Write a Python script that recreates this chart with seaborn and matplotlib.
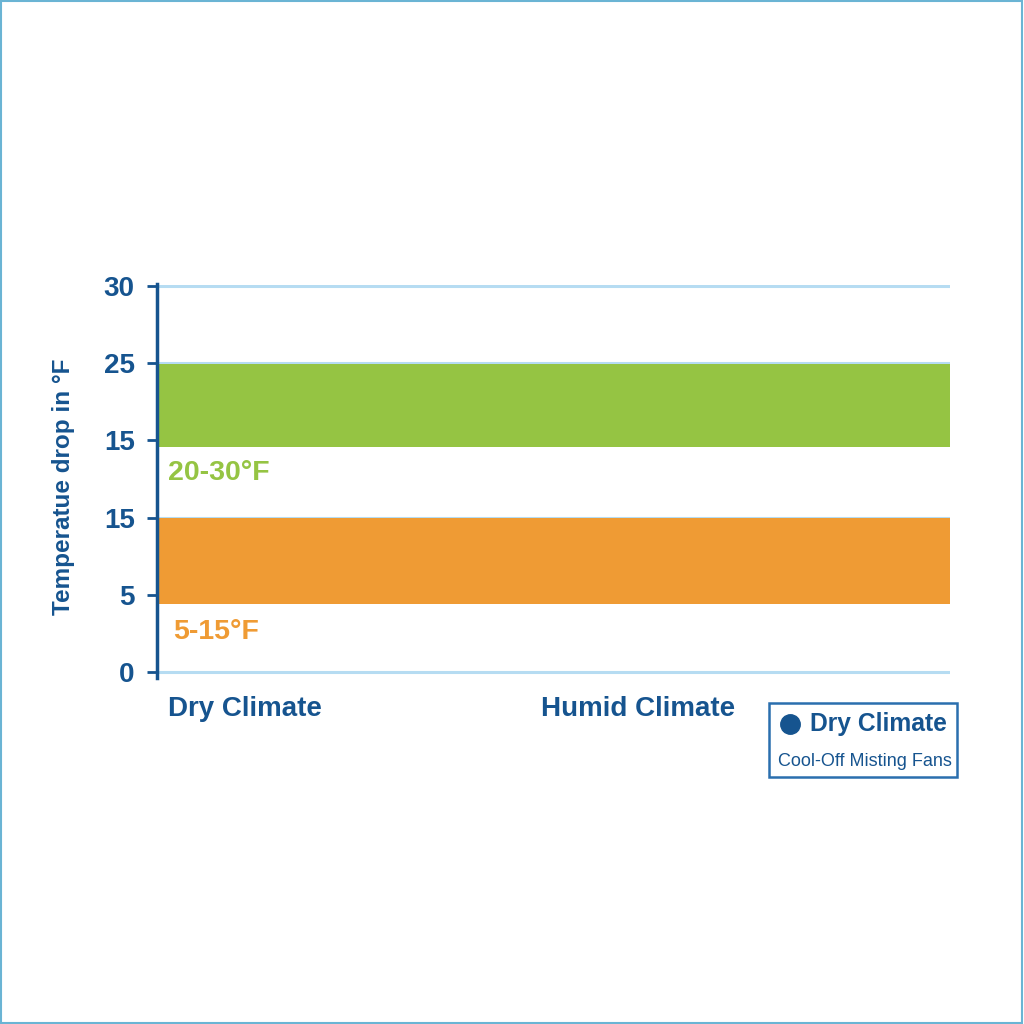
import matplotlib
matplotlib.use("Agg")
import matplotlib.pyplot as plt
import seaborn as sns
from matplotlib.patches import Rectangle
from matplotlib.lines import Line2D

# ---- data ----
ytick_labels = ["0", "5", "15", "15", "25", "30"]
band_names = ["20-30°F", "5-15°F"]
band_low = [2.91, 0.88]
band_high = [3.99, 1.99]
band_colors = ["#95c443", "#ef9b34"]
x_categories = ["Dry Climate", "Humid Climate"]
y_label = "Temperatue drop in °F"
legend_title = "Dry Climate"
legend_sub = "Cool-Off Misting Fans"

DARK = "#16548f"
GRID = "#b6dcf2"

sns.set_theme(style="white")
plt.rcParams["font.family"] = ["Liberation Sans", "DejaVu Sans"]

fig = plt.figure(figsize=(10.24, 10.24), dpi=100)
fig.patch.set_facecolor("white")
ax = fig.add_axes([157/1024, 1-678/1024, (950-157)/1024, (678-284.5)/1024])
ax.set_facecolor("white")

ax.set_xlim(0, 1)
ax.set_ylim(-0.08, 5.02)

ax.set_yticks(range(len(ytick_labels)))
ax.set_yticklabels(ytick_labels)
ax.yaxis.grid(True, color=GRID, linewidth=2.2)
ax.xaxis.grid(False)
ax.set_axisbelow(True)

# bands
for lo, hi, c in zip(band_low, band_high, band_colors):
    ax.bar(0.5, hi - lo, bottom=lo, width=1.0, color=c, edgecolor="none", zorder=2)

# band labels
label_y = [2.58, 0.52]
label_x = [0.014, 0.020]
for name, c, yy, xx in zip(band_names, band_colors, label_y, label_x):
    ax.text(xx, yy, name, color=c, fontsize=20.5, fontweight="bold", va="center", ha="left", zorder=3)

for s in ["top", "right", "bottom"]:
    ax.spines[s].set_visible(False)
ax.spines["left"].set_color(DARK)
ax.spines["left"].set_linewidth(2.5)

ax.tick_params(axis="y", colors=DARK, length=7, width=2, labelsize=20, pad=9, left=True)
for t in ax.get_yticklabels():
    t.set_fontweight("bold")
    t.set_color(DARK)

ax.set_xticks([0.111, 0.607])
ax.set_xticklabels(x_categories)
ax.tick_params(axis="x", length=0, pad=13, labelsize=20, colors=DARK)
for t in ax.get_xticklabels():
    t.set_fontweight("bold")

ax.set_ylabel(y_label, fontsize=17.5, fontweight="bold", color=DARK, labelpad=20)
ax.yaxis.set_label_coords(-0.103, 0.485)

def fx(px):
    return px / 1024
def fy(py):
    return 1 - py / 1024

fig.patches.append(Rectangle((fx(769), fy(777)), fx(957) - fx(769), fy(703) - fy(777),
                             transform=fig.transFigure, fill=False, edgecolor="#2a6fae", linewidth=1.8))
fig.lines.append(Line2D([fx(790)], [fy(724)], marker="o", markersize=14, color=DARK,
                        linestyle="none", transform=fig.transFigure))
fig.text(fx(810), fy(724), legend_title, fontsize=17.7, fontweight="bold", color=DARK, va="center", ha="left")
fig.text(fx(778), fy(761), legend_sub, fontsize=13, color=DARK, va="center", ha="left")

fig.patches.append(Rectangle((0.001, 0.001), 0.997, 0.998, transform=fig.transFigure,
                             fill=False, edgecolor="#6ab4d4", linewidth=1.5))

fig.savefig("out.png", dpi=100, facecolor="white")
